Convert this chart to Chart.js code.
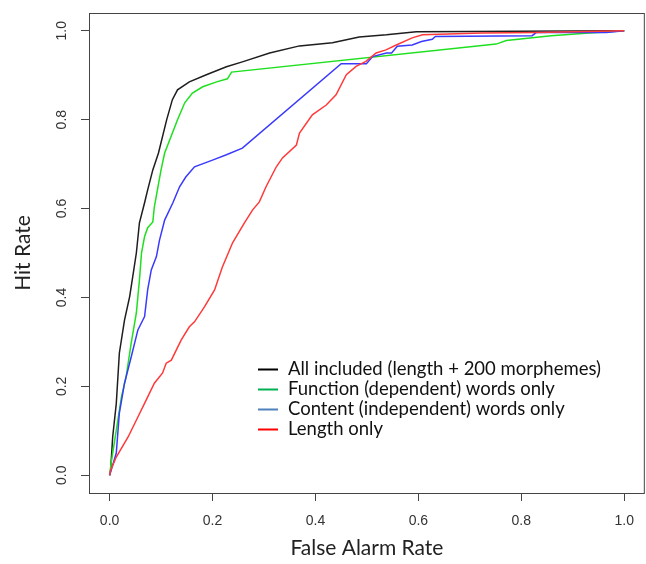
<!DOCTYPE html>
<html>
<head>
<meta charset="utf-8">
<script src="https://cdn.jsdelivr.net/npm/chart.js@4.4.1/dist/chart.umd.min.js"></script>
<style>
  html, body { margin: 0; padding: 0; background: #fff; }
  canvas { display: block; }
</style>
</head>
<body>
<canvas id="roc" width="646" height="564"></canvas>
<script>
// Tick labels (both axes)
const tickValues = [0, 0.2, 0.4, 0.6, 0.8, 1.0];
const tickLabels = ["0.0", "0.2", "0.4", "0.6", "0.8", "1.0"];

// Series names (legend order)
const seriesNames = [
  "All included (length + 200 morphemes)",
  "Function (dependent) words only",
  "Content (independent) words only",
  "Length only",
];

// All included
const allFA = [0, 0.002, 0.006, 0.013, 0.019, 0.029, 0.039, 0.045, 0.052, 0.058, 0.068, 0.074, 0.084, 0.095, 0.111, 0.122, 0.132, 0.155, 0.188, 0.227, 0.258, 0.311, 0.369, 0.433, 0.485, 0.538, 0.596, 1];
const allHit = [0, 0.011, 0.086, 0.161, 0.275, 0.349, 0.402, 0.447, 0.500, 0.568, 0.613, 0.642, 0.687, 0.725, 0.800, 0.845, 0.867, 0.885, 0.901, 0.919, 0.930, 0.950, 0.966, 0.973, 0.986, 0.991, 0.998, 1];

// Function words only
const funcFA = [0, 0.003, 0.013, 0.023, 0.032, 0.042, 0.052, 0.058, 0.062, 0.068, 0.074, 0.084, 0.087, 0.094, 0.100, 0.107, 0.132, 0.146, 0.161, 0.181, 0.208, 0.229, 0.237, 0.751, 0.771, 0.858, 0.932, 0.971, 1];
const funcHit = [0, 0.027, 0.101, 0.176, 0.221, 0.297, 0.365, 0.439, 0.500, 0.537, 0.557, 0.570, 0.604, 0.649, 0.687, 0.725, 0.800, 0.838, 0.860, 0.874, 0.885, 0.892, 0.907, 0.970, 0.978, 0.989, 0.995, 0.998, 1];

// Content words only
const contFA = [0, 0.002, 0.013, 0.019, 0.029, 0.042, 0.055, 0.068, 0.074, 0.081, 0.091, 0.097, 0.107, 0.123, 0.136, 0.148, 0.165, 0.200, 0.227, 0.258, 0.450, 0.499, 0.511, 0.538, 0.548, 0.559, 0.588, 0.606, 0.627, 0.633, 0.821, 0.829, 0.965, 1];
const contHit = [0, 0.007, 0.050, 0.140, 0.207, 0.266, 0.327, 0.357, 0.417, 0.462, 0.492, 0.529, 0.574, 0.613, 0.649, 0.671, 0.694, 0.709, 0.721, 0.736, 0.926, 0.926, 0.942, 0.950, 0.950, 0.965, 0.968, 0.976, 0.981, 0.987, 0.989, 0.996, 0.996, 1];

// Length only
const lenFA = [0, 0.002, 0.013, 0.036, 0.055, 0.071, 0.087, 0.103, 0.110, 0.120, 0.139, 0.155, 0.165, 0.184, 0.204, 0.219, 0.239, 0.262, 0.278, 0.291, 0.304, 0.324, 0.336, 0.363, 0.369, 0.394, 0.421, 0.440, 0.460, 0.479, 0.498, 0.518, 0.537, 0.557, 0.588, 0.608, 0.724, 0.829, 1];
const lenHit = [0, 0.011, 0.041, 0.086, 0.131, 0.169, 0.207, 0.230, 0.252, 0.259, 0.304, 0.334, 0.345, 0.378, 0.417, 0.468, 0.523, 0.568, 0.597, 0.615, 0.649, 0.694, 0.714, 0.743, 0.770, 0.811, 0.833, 0.856, 0.901, 0.920, 0.931, 0.950, 0.957, 0.968, 0.984, 0.991, 0.995, 0.996, 1];

const lineColors = ["#1e1e1e", "#1ee01e", "#3a3aff", "#ff3a3a"];
const legendColors = ["#000000", "#00b050", "#4f81bd", "#ff0000"];

const pts = (xs, ys) => xs.map((x, i) => ({ x: x, y: ys[i] }));
const series = [pts(allFA, allHit), pts(funcFA, funcHit), pts(contFA, contHit), pts(lenFA, lenHit)];

// caixa, rótulos do eixo y, títulos e legenda
const extras = {
  id: "extras",
  afterDraw(chart) {
    const { ctx, chartArea: a, scales } = chart;
    ctx.save();
    ctx.strokeStyle = "#444";
    ctx.lineWidth = 1;
    ctx.strokeRect(a.left + 0.5, a.top + 0.5, a.right - a.left - 1, a.bottom - a.top);

    // y tick labels, rotated like R
    ctx.fillStyle = "#333";
    ctx.font = "14px 'Liberation Sans'";
    ctx.textAlign = "center";
    ctx.textBaseline = "middle";
    tickValues.forEach((v, i) => {
      ctx.save();
      ctx.translate(62, scales.y.getPixelForValue(v));
      ctx.rotate(-Math.PI / 2);
      ctx.fillText(tickLabels[i], 0, 0);
      ctx.restore();
    });

    // axis titles
    ctx.fillStyle = "#222";
    ctx.font = "21px Lato";
    ctx.fillText("False Alarm Rate", (a.left + a.right) / 2, 548);
    ctx.save();
    ctx.translate(23, (a.top + a.bottom) / 2);
    ctx.rotate(-Math.PI / 2);
    ctx.fillText("Hit Rate", 0, 0);
    ctx.restore();

    // legend
    ctx.font = "18.5px Lato";
    ctx.textAlign = "left";
    seriesNames.forEach((name, i) => {
      const y = 369 + i * 20;
      ctx.strokeStyle = legendColors[i];
      ctx.lineWidth = 2;
      ctx.beginPath();
      ctx.moveTo(258, y + 0.5);
      ctx.lineTo(278, y + 0.5);
      ctx.stroke();
      ctx.fillStyle = "#111";
      ctx.fillText(name, 288, y);
    });
    ctx.restore();
  },
};

const axisCommon = {
  type: "linear",
  min: -0.04,
  max: 1.04,
  afterBuildTicks: (scale) => {
    scale.ticks = tickValues.map((v) => ({ value: v }));
  },
  grid: { display: true, drawOnChartArea: false, drawTicks: true, tickLength: 8, color: "#444" },
  border: { display: false },
};

new Chart(document.getElementById("roc"), {
  type: "scatter",
  data: {
    datasets: series.map((data, i) => ({
      label: seriesNames[i],
      data: data,
      showLine: true,
      borderColor: lineColors[i],
      backgroundColor: lineColors[i],
      borderWidth: 1.5,
      pointRadius: 0,
      tension: 0,
      order: 3 - i,
    })),
  },
  options: {
    responsive: false,
    animation: false,
    layout: { padding: { top: 13, right: 1, left: 0, bottom: 0 } },
    plugins: { legend: { display: false }, tooltip: { enabled: false } },
    scales: {
      x: {
        ...axisCommon,
        afterFit: (scale) => { scale.height = 71; },
        ticks: {
          padding: 12,
          color: "#333",
          font: { family: "'Liberation Sans'", size: 14 },
          maxRotation: 0,
          callback: (v, i) => tickLabels[i],
        },
      },
      y: {
        ...axisCommon,
        afterFit: (scale) => { scale.width = 89; },
        ticks: {
          color: "rgba(0,0,0,0)",
          callback: (v, i) => tickLabels[i],
        },
      },
    },
  },
  plugins: [extras],
});
</script>
</body>
</html>
